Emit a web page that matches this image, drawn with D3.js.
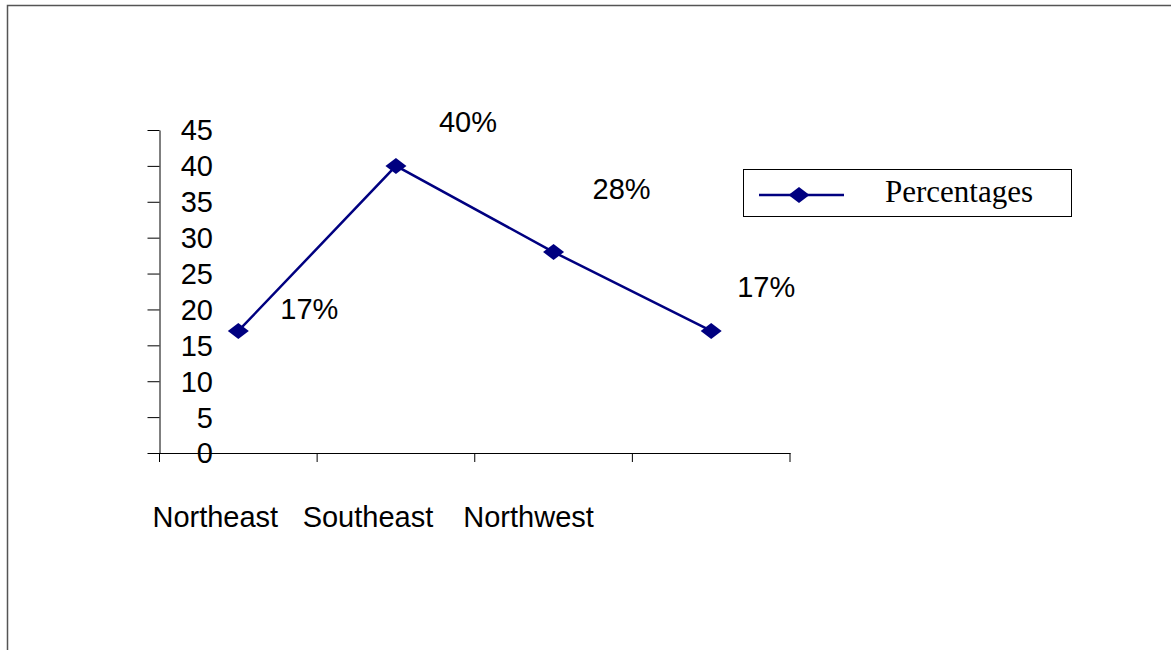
<!DOCTYPE html>
<html>
<head>
<meta charset="utf-8">
<script src="https://cdn.jsdelivr.net/npm/d3@7"></script>
<style>
  body { margin: 0; background: #fff; }
  svg { display: block; }
</style>
</head>
<body>
<div id="chart"></div>
<script>
// data
const categories = ['Northeast', 'Southeast', 'Northwest', 'Southwest'];
const tickLabels = ['Northeast', 'Southeast', 'Northwest', ''];
const values = [17, 40, 28, 17];
const valueLabels = ['17%', '40%', '28%', '17%'];
const yTicks = [0, 5, 10, 15, 20, 25, 30, 35, 40, 45];
const seriesName = 'Percentages';

// where the data labels sit relative to their point (dx px, dy px)
const labelOffsets = [[71, -22], [72, -44], [68, -63], [55, -44]];
// category labels are drawn a bit left of the band centre
const catShift = [-23, -28, -25, 0];

const width = 1171;
const height = 650;
const navy = '#000080';
const sans = '"Liberation Sans", Arial, sans-serif';
const serif = '"Liberation Serif", "Times New Roman", serif';

const svg = d3
  .select('#chart')
  .append('svg')
  .attr('width', width)
  .attr('height', height);

// outer frame (right and bottom edges fall outside the picture)
svg.append('rect')
  .attr('x', 7.5).attr('y', 5.5)
  .attr('width', 1200).attr('height', 700)
  .attr('fill', 'none')
  .attr('stroke', '#555')
  .attr('stroke-width', 1.5);

const plot = { left: 159.5, right: 790, top: 130, bottom: 453 };

const x = d3.scaleBand()
  .domain(categories)
  .range([plot.left, plot.right])
  .padding(0);

const y = d3.scaleLinear()
  .domain([0, 45])
  .range([plot.bottom, plot.top]);

const cx = c => x(c) + x.bandwidth() / 2;

// y axis
const yAxis = svg.append('g')
  .attr('transform', `translate(${plot.left},0)`)
  .call(d3.axisLeft(y).tickValues(yTicks).tickSize(12).tickSizeOuter(0).tickFormat(''));
yAxis.select('.domain').attr('stroke', '#000');
yAxis.selectAll('.tick line').attr('stroke', '#000');

svg.append('g')
  .selectAll('text')
  .data(yTicks)
  .join('text')
  .attr('x', 213)
  .attr('y', d => y(d))
  .attr('dy', '0.36em')
  .attr('text-anchor', 'end')
  .style('font-family', sans)
  .style('font-size', '29px')
  .attr('fill', '#000')
  .text(d => d);

// x axis
const xAxis = svg.append('g')
  .attr('transform', `translate(0,${plot.bottom})`)
  .call(d3.axisBottom(x).tickSize(0).tickSizeOuter(0).tickFormat(''));
xAxis.select('.domain').attr('stroke', '#000');
const xTickPos = categories.map(c => x(c)).concat([plot.right]);
xAxis.selectAll('line.bt')
  .data(xTickPos)
  .join('line')
  .attr('class', 'bt')
  .attr('x1', d => d).attr('x2', d => d)
  .attr('y1', 0).attr('y2', 9)
  .attr('stroke', '#000');

svg.append('g')
  .selectAll('text')
  .data(categories)
  .join('text')
  .attr('x', (d, i) => cx(d) + catShift[i])
  .attr('y', 527)
  .attr('text-anchor', 'middle')
  .style('font-family', sans)
  .style('font-size', '29px')
  .attr('fill', '#000')
  .text((d, i) => tickLabels[i]);

// series
const line = d3.line()
  .x((d, i) => cx(categories[i]))
  .y(d => y(d));

svg.append('path')
  .datum(values)
  .attr('d', line)
  .attr('fill', 'none')
  .attr('stroke', navy)
  .attr('stroke-width', 2.5);

// flat diamond marker
const rhombus = {
  draw(ctx) {
    ctx.moveTo(-10.5, 0);
    ctx.lineTo(0, -8);
    ctx.lineTo(10.5, 0);
    ctx.lineTo(0, 8);
    ctx.closePath();
  }
};
const diamond = d3.symbol().type(rhombus);

svg.append('g')
  .selectAll('path')
  .data(values)
  .join('path')
  .attr('d', diamond)
  .attr('transform', (d, i) => `translate(${cx(categories[i])},${y(d)})`)
  .attr('fill', navy);

svg.append('g')
  .selectAll('text')
  .data(values)
  .join('text')
  .attr('x', (d, i) => cx(categories[i]) + labelOffsets[i][0])
  .attr('y', (d, i) => y(d) + labelOffsets[i][1])
  .attr('dy', '0.36em')
  .attr('text-anchor', 'middle')
  .style('font-family', sans)
  .style('font-size', '29px')
  .attr('fill', '#000')
  .text((d, i) => valueLabels[i]);

// legend
const legend = svg.append('g').attr('transform', 'translate(743,169)');
legend.append('rect')
  .attr('x', 0.5).attr('y', 0.5)
  .attr('width', 328).attr('height', 47)
  .attr('fill', '#fff')
  .attr('stroke', '#000')
  .attr('stroke-width', 1);
legend.append('line')
  .attr('x1', 16).attr('x2', 101)
  .attr('y1', 26).attr('y2', 26)
  .attr('stroke', navy)
  .attr('stroke-width', 2.5);
legend.append('path')
  .attr('d', diamond)
  .attr('transform', 'translate(56,26)')
  .attr('fill', navy);
legend.append('text')
  .attr('x', 142)
  .attr('y', 33)
  .style('font-family', serif)
  .style('font-size', '31px')
  .attr('fill', '#000')
  .text(seriesName);
</script>
</body>
</html>
